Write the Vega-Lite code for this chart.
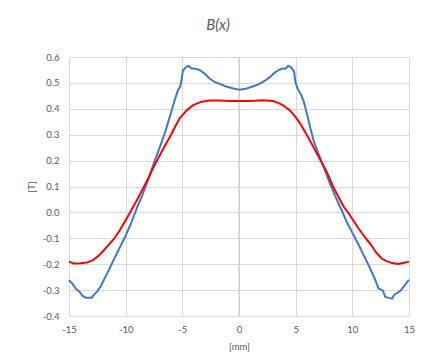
{
  "$schema": "https://vega.github.io/schema/vega-lite/v6.json",
  "width": 340,
  "height": 259,
  "autosize": {"type": "none"},
  "padding": {"left": 69, "top": 57, "right": 19, "bottom": 44},
  "background": "white",
  "title": {"text": "B(x)", "fontStyle": "italic", "fontWeight": "normal", "font": "Lato", "fontSize": 15, "color": "#595959", "offset": 19, "dx": -21},
  "config": {
    "view": {"stroke": null},
    "axis": {"labelFont": "Lato", "labelFontSize": 9.5, "labelColor": "#595959", "titleFont": "Lato", "titleFontSize": 9.5, "titleColor": "#595959", "titleFontWeight": "normal", "gridColor": "#d9d9d9", "gridWidth": 1, "domain": false, "ticks": false, "labelFlush": false}
  },
  "datasets": {
    "blue": [
      {"x": -15.0, "B": -0.262}, {"x": -14.7, "B": -0.275}, {"x": -14.4, "B": -0.295}, {"x": -14.1, "B": -0.305},
      {"x": -13.8, "B": -0.322}, {"x": -13.5, "B": -0.330}, {"x": -13.0, "B": -0.330}, {"x": -12.8, "B": -0.318},
      {"x": -12.5, "B": -0.305}, {"x": -12.2, "B": -0.285}, {"x": -11.8, "B": -0.250}, {"x": -11.4, "B": -0.215},
      {"x": -11.0, "B": -0.178}, {"x": -10.5, "B": -0.134}, {"x": -10.0, "B": -0.090}, {"x": -9.5, "B": -0.040},
      {"x": -9.0, "B": 0.018}, {"x": -8.5, "B": 0.070}, {"x": -8.0, "B": 0.128}, {"x": -7.5, "B": 0.192},
      {"x": -7.0, "B": 0.250}, {"x": -6.5, "B": 0.312}, {"x": -6.0, "B": 0.385}, {"x": -5.7, "B": 0.430},
      {"x": -5.4, "B": 0.470}, {"x": -5.2, "B": 0.485}, {"x": -5.05, "B": 0.515}, {"x": -4.95, "B": 0.548},
      {"x": -4.7, "B": 0.560}, {"x": -4.45, "B": 0.566}, {"x": -4.2, "B": 0.556}, {"x": -4.0, "B": 0.556},
      {"x": -3.7, "B": 0.553}, {"x": -3.4, "B": 0.548}, {"x": -3.0, "B": 0.535}, {"x": -2.6, "B": 0.517},
      {"x": -2.2, "B": 0.505}, {"x": -1.7, "B": 0.496}, {"x": -1.2, "B": 0.487}, {"x": -0.8, "B": 0.482},
      {"x": -0.4, "B": 0.477}, {"x": 0.0, "B": 0.474}, {"x": 0.5, "B": 0.476}, {"x": 1.0, "B": 0.483},
      {"x": 1.5, "B": 0.491}, {"x": 1.9, "B": 0.498}, {"x": 2.4, "B": 0.512}, {"x": 2.8, "B": 0.525},
      {"x": 3.1, "B": 0.538}, {"x": 3.5, "B": 0.550}, {"x": 3.9, "B": 0.556}, {"x": 4.1, "B": 0.555},
      {"x": 4.35, "B": 0.566}, {"x": 4.6, "B": 0.560}, {"x": 4.85, "B": 0.545}, {"x": 5.0, "B": 0.500},
      {"x": 5.2, "B": 0.475}, {"x": 5.5, "B": 0.452}, {"x": 5.7, "B": 0.430}, {"x": 6.0, "B": 0.380},
      {"x": 6.3, "B": 0.325}, {"x": 6.6, "B": 0.275}, {"x": 7.0, "B": 0.228}, {"x": 7.5, "B": 0.172},
      {"x": 8.0, "B": 0.114}, {"x": 8.5, "B": 0.062}, {"x": 9.0, "B": 0.014}, {"x": 9.5, "B": -0.036},
      {"x": 10.0, "B": -0.078}, {"x": 10.5, "B": -0.120}, {"x": 11.0, "B": -0.165}, {"x": 11.5, "B": -0.210},
      {"x": 12.0, "B": -0.258}, {"x": 12.3, "B": -0.293}, {"x": 12.7, "B": -0.302}, {"x": 12.9, "B": -0.326},
      {"x": 13.2, "B": -0.330}, {"x": 13.5, "B": -0.333}, {"x": 13.7, "B": -0.318}, {"x": 14.0, "B": -0.310},
      {"x": 14.3, "B": -0.300}, {"x": 14.6, "B": -0.283}, {"x": 15.0, "B": -0.260}
    ],
    "red": [
      {"x": -15.0, "B": -0.190}, {"x": -14.6, "B": -0.197}, {"x": -14.0, "B": -0.196}, {"x": -13.4, "B": -0.193},
      {"x": -12.9, "B": -0.185}, {"x": -12.4, "B": -0.168}, {"x": -12.0, "B": -0.150}, {"x": -11.6, "B": -0.130},
      {"x": -11.0, "B": -0.100}, {"x": -10.5, "B": -0.068}, {"x": -10.0, "B": -0.030}, {"x": -9.5, "B": 0.008},
      {"x": -9.0, "B": 0.048}, {"x": -8.5, "B": 0.090}, {"x": -8.0, "B": 0.132}, {"x": -7.5, "B": 0.178},
      {"x": -7.0, "B": 0.220}, {"x": -6.5, "B": 0.260}, {"x": -6.1, "B": 0.291}, {"x": -5.65, "B": 0.330},
      {"x": -5.2, "B": 0.365}, {"x": -4.6, "B": 0.395}, {"x": -4.0, "B": 0.415}, {"x": -3.4, "B": 0.426},
      {"x": -2.6, "B": 0.432}, {"x": -1.7, "B": 0.432}, {"x": -0.8, "B": 0.430}, {"x": 0.0, "B": 0.430},
      {"x": 1.0, "B": 0.430}, {"x": 2.1, "B": 0.433}, {"x": 3.0, "B": 0.430}, {"x": 3.6, "B": 0.420},
      {"x": 4.0, "B": 0.410}, {"x": 4.5, "B": 0.394}, {"x": 5.0, "B": 0.368}, {"x": 5.4, "B": 0.343},
      {"x": 5.8, "B": 0.313}, {"x": 6.2, "B": 0.282}, {"x": 6.7, "B": 0.242}, {"x": 7.2, "B": 0.200},
      {"x": 7.7, "B": 0.160}, {"x": 8.3, "B": 0.100}, {"x": 8.9, "B": 0.050}, {"x": 9.3, "B": 0.018},
      {"x": 9.7, "B": -0.005}, {"x": 10.1, "B": -0.032}, {"x": 10.6, "B": -0.065}, {"x": 11.1, "B": -0.095},
      {"x": 11.6, "B": -0.122}, {"x": 12.1, "B": -0.155}, {"x": 12.6, "B": -0.178}, {"x": 13.0, "B": -0.188},
      {"x": 13.4, "B": -0.194}, {"x": 14.0, "B": -0.199}, {"x": 14.6, "B": -0.194}, {"x": 15.0, "B": -0.190}
    ],
    "zero": [{"x": 0}]
  },
  "encoding": {
    "x": {"field": "x", "type": "quantitative", "scale": {"domain": [-15, 15], "nice": false, "zero": false},
      "axis": {"values": [-15, -10, -5, 0, 5, 10, 15], "title": "[mm]", "labelPadding": 8, "titlePadding": 8,
        "labelExpr": "replace(format(datum.value, 'd'), '\u2212', '-')"}},
    "y": {"field": "B", "type": "quantitative", "scale": {"domain": [-0.4, 0.6], "nice": false, "zero": false},
      "axis": {"values": [-0.4, -0.3, -0.2, -0.1, 0, 0.1, 0.2, 0.3, 0.4, 0.5, 0.6], "title": "[T]", "labelPadding": 10, "titlePadding": 6,
        "labelExpr": "replace(format(datum.value, '.1f'), '\u2212', '-')"}}
  },
  "layer": [
    {"data": {"name": "zero"}, "mark": {"type": "rule", "color": "#c8c8c8", "strokeWidth": 1}, "encoding": {"x": {"field": "x", "type": "quantitative"}, "y": null}},
    {"data": {"name": "blue"}, "mark": {"type": "line", "color": "#3f78c9", "strokeWidth": 2, "strokeJoin": "round"}},
    {"data": {"name": "red"}, "mark": {"type": "line", "color": "#ff0000", "strokeWidth": 2, "strokeJoin": "round"}}
  ]
}
